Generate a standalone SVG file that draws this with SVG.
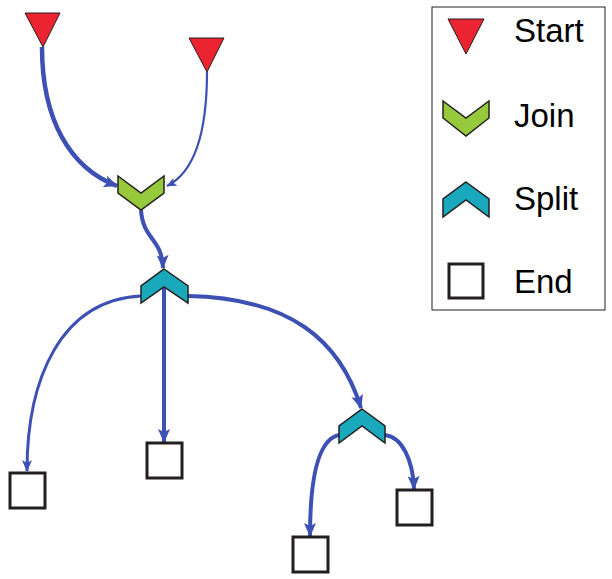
<svg xmlns="http://www.w3.org/2000/svg" width="612" height="579" viewBox="0 0 612 579">
<style>
.start{fill:#ec2330;stroke:#231f20;stroke-width:1}
.join{fill:#97c93d;stroke:#231f20;stroke-width:1.5}
.split{fill:#1aa9bc;stroke:#231f20;stroke-width:1.5}
.end{fill:#fff;stroke:#231f20;stroke-width:3}
.edge{fill:none;stroke:#3d50b4}
.label{font-family:"Liberation Sans",Arial,sans-serif;font-size:33px;fill:#000}
</style>
<defs>
<marker id="arrow" markerUnits="userSpaceOnUse" viewBox="0 0 14 12" refX="13" refY="6" markerWidth="14" markerHeight="12" orient="auto">
<path d="M0,0 L14,6 L0,12 L3,6 Z" fill="#3d50b4"/>
</marker>
<marker id="arrowMid" markerUnits="userSpaceOnUse" viewBox="0 0 14 12" refX="13" refY="6" markerWidth="12" markerHeight="10" orient="auto">
<path d="M0,0 L14,6 L0,12 L3,6 Z" fill="#3d50b4"/>
</marker>
<marker id="arrowSmall" markerUnits="userSpaceOnUse" viewBox="0 0 14 12" refX="13" refY="6" markerWidth="10" markerHeight="9" orient="auto">
<path d="M0,0 L14,6 L0,12 L3,6 Z" fill="#3d50b4"/>
</marker>
</defs>
<g id="connectors">
<path class="edge" stroke-width="4.5" d="M42,47 C42,120 70,168 117,186" marker-end="url(#arrow)"/>
<path class="edge" stroke-width="2.2" d="M207,72 C207,130 195,172 167,186" marker-end="url(#arrowSmall)"/>
<path class="edge" stroke-width="4" d="M141,210 C143,240 162,238 163,268" marker-end="url(#arrow)"/>
<path class="edge" stroke-width="3" d="M141,296 C60,300 27,380 27,471" marker-end="url(#arrowMid)"/>
<path class="edge" stroke-width="4" d="M164,288 L164,442" marker-end="url(#arrow)"/>
<path class="edge" stroke-width="4" d="M188,296 C290,298 340,340 361,408" marker-end="url(#arrow)"/>
<path class="edge" stroke-width="4" d="M339,435 C315,440 310,490 310,536" marker-end="url(#arrow)"/>
<path class="edge" stroke-width="4" d="M385,435 C402,437 413,460 414,489" marker-end="url(#arrow)"/>
</g>
<g id="start1"><polygon class="start" points="25,13 60,13 43,47"/></g>
<g id="start2"><polygon class="start" points="189,38 224,38 207,72"/></g>
<g id="join1"><polygon class="join" points="118,176 141,193 164,176 164,193 141,210 118,193"/></g>
<g id="split1"><polygon class="split" points="164,269 188,286 188,303 164,287 141,303 141,286"/></g>
<g id="split2"><polygon class="split" points="362,409 385,426 385,443 362,426 339,443 339,426"/></g>
<g id="end1"><rect class="end" x="10" y="473" width="35" height="35"/></g>
<g id="end2"><rect class="end" x="147" y="443" width="35" height="35"/></g>
<g id="end3"><rect class="end" x="397" y="490" width="35" height="35"/></g>
<g id="end4"><rect class="end" x="293" y="537" width="35" height="35"/></g>
<g id="legend">
<rect x="432" y="7" width="173" height="303" fill="#fff" stroke="#231f20" stroke-width="1"/>
<polygon class="start" points="448,19 484,19 466,54"/>
<text class="label" x="514" y="42">Start</text>
<polygon class="join" points="443,101 466,118 489,101 489,118 466,136 443,118"/>
<text class="label" x="514" y="127">Join</text>
<polygon class="split" points="466,182 489,199 489,217 466,200 443,217 443,199"/>
<text class="label" x="514" y="210">Split</text>
<rect class="end" x="449" y="264" width="34" height="34"/>
<text class="label" x="514" y="293">End</text>
</g>
</svg>
